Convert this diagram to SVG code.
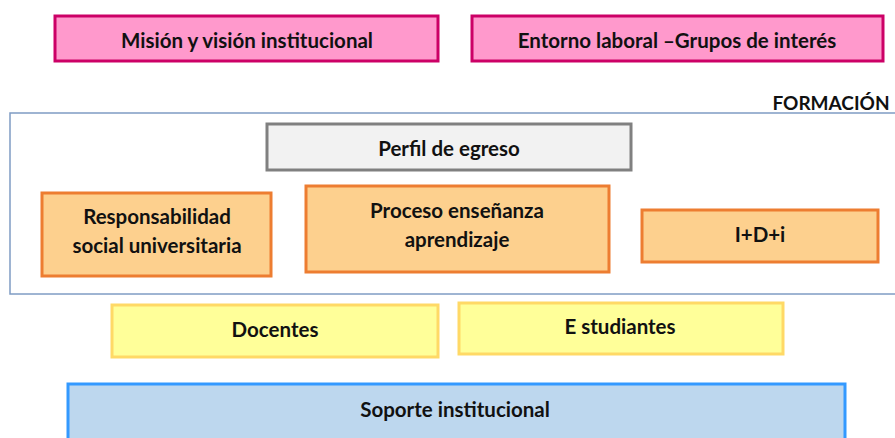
<svg xmlns="http://www.w3.org/2000/svg" width="895" height="438" viewBox="0 0 895 438">
<style>
text{font-family:Lato,"Open Sans","Liberation Sans",sans-serif;font-weight:bold;font-size:20.5px;fill:#111;text-anchor:middle}
.pink{fill:#ff99cc;stroke:#cc0066;stroke-width:3}
.gray{fill:#f2f2f2;stroke:#808080;stroke-width:3}
.orange{fill:#fdd08e;stroke:#ed7d31;stroke-width:3}
.yellow{fill:#ffff99;stroke:#ffd966;stroke-width:3}
.blue{fill:#bdd7ee;stroke:#3399ff;stroke-width:3}
</style>
<rect width="895" height="438" fill="#fff"/>
<g id="formacion">
<rect x="10" y="113" width="890" height="181" fill="#fff" stroke="#7f9cc4" stroke-width="1.5"/>
<text x="831" y="110" style="font-size:19px">FORMACIÓN</text>
</g>
<g id="mision">
<rect class="pink" x="55" y="16" width="383" height="45"/>
<text x="247" y="48">Misión y visión institucional</text>
</g>
<g id="entorno">
<rect class="pink" x="472" y="16" width="411" height="45"/>
<text x="677" y="48">Entorno laboral –Grupos de interés</text>
</g>
<g id="perfil">
<rect class="gray" x="267" y="124" width="364" height="46"/>
<text x="449" y="156">Perfil de egreso</text>
</g>
<g id="rsu">
<rect class="orange" x="42" y="193" width="229" height="83"/>
<text x="157" y="224">Responsabilidad</text>
<text x="157" y="253">social universitaria</text>
</g>
<g id="proceso">
<rect class="orange" x="306" y="186" width="303" height="86"/>
<text x="457" y="218">Proceso enseñanza</text>
<text x="457" y="247">aprendizaje</text>
</g>
<g id="idi">
<rect class="orange" x="642" y="210" width="236" height="52"/>
<text x="760" y="242">I+D+i</text>
</g>
<g id="docentes">
<rect class="yellow" x="112" y="305" width="326" height="52"/>
<text x="275" y="337">Docentes</text>
</g>
<g id="estudiantes">
<rect class="yellow" x="459" y="303" width="324" height="51"/>
<text x="620" y="334">E studiantes</text>
</g>
<g id="soporte">
<rect class="blue" x="68" y="384" width="777" height="60"/>
<text x="455" y="417">Soporte institucional</text>
</g>
<g id="connectors"></g>
</svg>
